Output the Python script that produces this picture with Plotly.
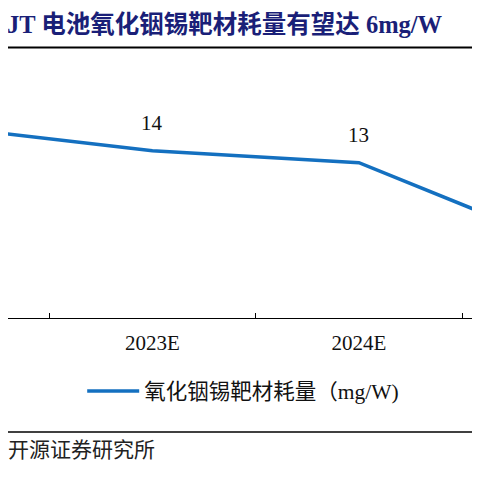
import plotly.graph_objects as go

# 数据
years = ["2022", "2023E", "2024E", "2025E"]
ito_usage = [16, 14, 13, 6]  # 氧化铟锡靶材耗量 (mg/W)
label_years = ["2023E", "2024E"]
label_vals = [14, 13]

title_txt = "JT 电池氧化铟锡靶材耗量有望达 6mg/W"
series_name = "氧化铟锡靶材耗量（mg/W)"
source_txt = "开源证券研究所"

FONT = "Liberation Serif, Noto Sans CJK SC, serif"
BLUE = "#1470c0"

fig = go.Figure()
fig.add_trace(go.Scatter(
    x=years, y=ito_usage, mode="lines", name=series_name,
    line=dict(color=BLUE, width=3.5),
    showlegend=True,
))

# 数据标签
for yr, v in zip(label_years, label_vals):
    fig.add_annotation(x=yr, y=v, text=str(v), showarrow=False,
                       yshift=28, font=dict(size=21, color="#111", family=FONT))

# 标题 & 来源
fig.add_annotation(xref="paper", yref="paper", x=-0.006, y=1.136, xanchor="left",
                   yanchor="middle", text="<b>" + title_txt + "</b>", showarrow=False,
                   font=dict(size=24.5, color="#1a1f78", family=FONT))
fig.add_annotation(xref="paper", yref="paper", x=-0.004, y=-0.512, xanchor="left",
                   yanchor="middle", text=source_txt, showarrow=False,
                   font=dict(size=21, color="#222", family=FONT))

# 分隔线
fig.add_shape(type="line", xref="paper", yref="paper", x0=0, x1=1, y0=1.048, y1=1.048,
              line=dict(color="black", width=2))
fig.add_shape(type="line", xref="paper", yref="paper", x0=0, x1=1, y0=-0.442, y1=-0.442,
              line=dict(color="black", width=1.5))

fig.update_xaxes(
    type="category", range=[0.301, 2.625],
    showline=True, linecolor="black", linewidth=1,
    ticks="inside", ticklen=5, tickcolor="black", tickson="boundaries",
    tickfont=dict(size=21, color="#111", family=FONT),
    ticklabelstandoff=6,
    showgrid=False, zeroline=False,
)
fig.update_yaxes(range=[0, 21.6], visible=False, showgrid=False)

fig.update_layout(
    width=480, height=480,
    margin=dict(l=0, r=0, t=52, b=170),
    plot_bgcolor="white", paper_bgcolor="white",
    legend=dict(orientation="h", x=0.49, xanchor="center", yref="container",
                y=0.202, yanchor="middle", itemwidth=52,
                font=dict(size=21.5, color="#111", family=FONT)),
    font=dict(family=FONT),
)

fig.write_html("out.html")
